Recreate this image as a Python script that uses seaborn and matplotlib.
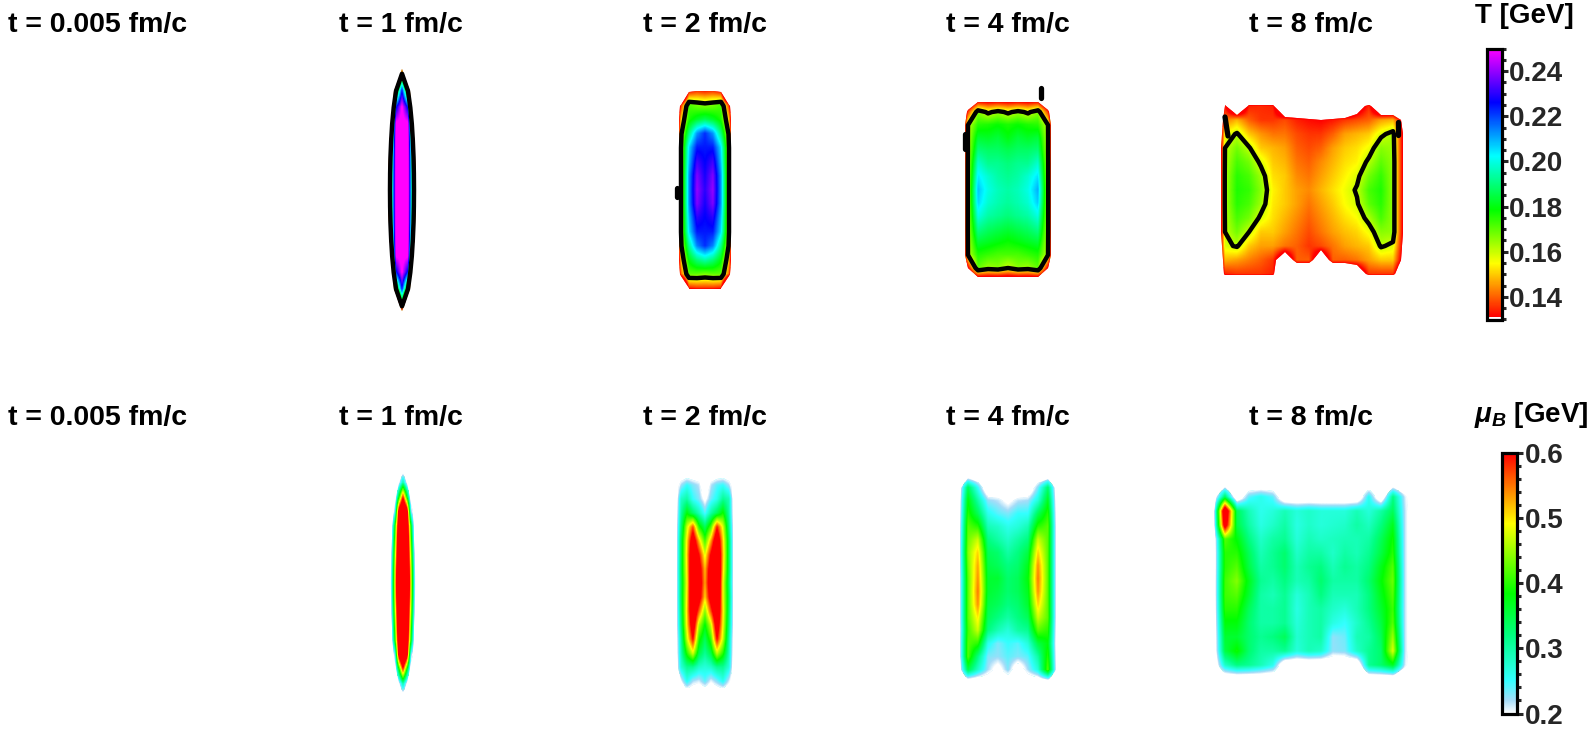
import matplotlib
matplotlib.use("Agg")
import matplotlib.pyplot as plt
import numpy as np
import pandas as pd
import seaborn as sns
from matplotlib.colors import LinearSegmentedColormap

W, H = 1590, 732

# values in MeV. rows go top to bottom
# 60 (T) and 150 (mu_B) mean nothing is drawn there
T_1 = [
    [60, 60, 60, 60, 60, 60, 60],
    [60, 60, 60, 165, 60, 60, 60],
    [60, 60, 160, 225, 160, 60, 60],
    [60, 60, 222, 252, 222, 60, 60],
    [60, 108, 252, 255, 252, 108, 60],
    [60, 137, 255, 255, 255, 137, 60],
    [60, 152, 255, 255, 255, 152, 60],
    [60, 158, 255, 255, 255, 158, 60],
    [60, 160, 255, 255, 255, 160, 60],
    [60, 158, 255, 255, 255, 158, 60],
    [60, 152, 255, 255, 255, 152, 60],
    [60, 137, 255, 255, 255, 137, 60],
    [60, 108, 252, 255, 252, 108, 60],
    [60, 60, 222, 252, 222, 60, 60],
    [60, 60, 160, 225, 160, 60, 60],
    [60, 60, 60, 165, 60, 60, 60],
    [60, 60, 60, 60, 60, 60, 60],
]
T_2 = [
    [60, 60, 60, 60, 60, 60, 60, 60, 60],
    [60, 60, 132, 136, 134, 136, 132, 60, 60],
    [60, 135, 172, 168, 166, 168, 172, 135, 60],
    [60, 150, 176, 182, 186, 182, 176, 150, 60],
    [60, 158, 190, 212, 222, 212, 190, 158, 60],
    [60, 160, 205, 224, 224, 224, 205, 160, 60],
    [60, 160, 208, 232, 226, 232, 208, 160, 60],
    [60, 160, 212, 238, 228, 238, 212, 160, 60],
    [60, 160, 212, 240, 230, 240, 212, 160, 60],
    [60, 160, 212, 238, 228, 238, 212, 160, 60],
    [60, 160, 208, 230, 226, 230, 208, 160, 60],
    [60, 160, 205, 224, 224, 224, 205, 160, 60],
    [60, 158, 192, 214, 222, 214, 192, 158, 60],
    [60, 150, 180, 190, 195, 190, 180, 150, 60],
    [60, 140, 170, 170, 168, 170, 170, 140, 60],
    [60, 60, 134, 136, 136, 136, 134, 60, 60],
    [60, 60, 60, 60, 60, 60, 60, 60, 60],
]
T_4 = [
    [60, 60, 60, 60, 60, 60, 60, 60, 60, 60, 60],
    [60, 100, 120, 120, 120, 120, 120, 120, 120, 100, 60],
    [60, 135, 166, 158, 163, 158, 163, 158, 166, 135, 60],
    [60, 160, 175, 176, 178, 176, 178, 176, 175, 160, 60],
    [60, 161, 183, 182, 184, 180, 184, 182, 184, 161, 60],
    [60, 161, 190, 188, 188, 186, 188, 188, 190, 161, 60],
    [60, 162, 198, 192, 192, 190, 192, 192, 198, 162, 60],
    [60, 162, 204, 198, 194, 192, 194, 198, 205, 162, 60],
    [60, 162, 208, 200, 196, 194, 196, 200, 210, 162, 60],
    [60, 162, 206, 198, 195, 193, 195, 198, 207, 162, 60],
    [60, 162, 200, 194, 192, 190, 192, 194, 200, 162, 60],
    [60, 162, 192, 188, 186, 184, 186, 188, 192, 162, 60],
    [60, 161, 184, 182, 180, 178, 180, 182, 184, 161, 60],
    [60, 160, 176, 174, 172, 172, 172, 174, 176, 160, 60],
    [60, 130, 170, 164, 166, 160, 166, 164, 170, 130, 60],
    [60, 100, 115, 115, 115, 115, 115, 115, 115, 100, 60],
    [60, 60, 60, 60, 60, 60, 60, 60, 60, 60, 60],
]
T_8 = [
    [60, 60, 60, 60, 60, 60, 60, 60, 60, 60, 60, 60, 60, 60, 60, 60, 60, 60],
    [60, 133, 100, 134, 135, 134, 100, 100, 100, 100, 100, 100, 120, 135, 100, 100, 60, 60],
    [60, 142, 148, 140, 136, 136, 138, 134, 132, 131, 133, 136, 138, 140, 146, 148, 122, 60],
    [60, 155, 161, 150, 145, 142, 142, 138, 136, 136, 140, 146, 148, 150, 158, 163, 122, 60],
    [60, 160, 168, 161, 150, 148, 146, 140, 138, 140, 146, 150, 152, 156, 166, 164, 122, 60],
    [60, 161, 172, 168, 158, 150, 148, 142, 140, 144, 148, 152, 154, 162, 170, 165, 122, 60],
    [60, 162, 175, 172, 164, 152, 150, 144, 142, 146, 150, 154, 158, 168, 174, 165, 122, 60],
    [60, 162, 176, 174, 166, 154, 150, 146, 144, 148, 152, 156, 161, 172, 176, 165, 122, 60],
    [60, 162, 175, 172, 164, 153, 150, 146, 142, 146, 150, 155, 159, 170, 175, 165, 122, 60],
    [60, 161, 172, 168, 158, 152, 148, 144, 140, 144, 148, 152, 155, 163, 172, 165, 122, 60],
    [60, 160, 168, 160, 150, 150, 146, 142, 138, 142, 146, 149, 151, 156, 166, 165, 122, 60],
    [60, 158, 161, 150, 146, 146, 142, 140, 136, 138, 142, 146, 148, 150, 161, 158, 122, 60],
    [60, 148, 146, 143, 140, 136, 112, 140, 140, 112, 140, 140, 142, 146, 150, 150, 120, 60],
    [60, 134, 136, 136, 136, 134, 100, 100, 100, 100, 100, 100, 110, 136, 136, 136, 100, 60],
    [60, 60, 60, 60, 60, 60, 60, 60, 60, 60, 60, 60, 60, 60, 60, 60, 60, 60],
]

MU_1 = [
    [150, 150, 150, 150, 150, 150, 150, 150, 150],
    [150, 150, 150, 200, 300, 200, 150, 150, 150],
    [150, 150, 170, 380, 590, 380, 170, 150, 150],
    [150, 150, 230, 650, 800, 650, 230, 150, 150],
    [150, 150, 380, 700, 800, 700, 380, 150, 150],
    [150, 170, 420, 720, 800, 720, 420, 170, 150],
    [150, 190, 450, 760, 800, 760, 450, 190, 150],
    [150, 205, 480, 780, 800, 780, 480, 205, 150],
    [150, 210, 490, 800, 800, 800, 490, 210, 150],
    [150, 205, 480, 780, 800, 780, 480, 205, 150],
    [150, 190, 450, 760, 800, 760, 450, 190, 150],
    [150, 170, 420, 720, 800, 720, 420, 170, 150],
    [150, 150, 380, 700, 800, 700, 380, 150, 150],
    [150, 150, 230, 650, 800, 650, 230, 150, 150],
    [150, 150, 170, 380, 590, 380, 170, 150, 150],
    [150, 150, 150, 200, 300, 200, 150, 150, 150],
    [150, 150, 150, 150, 150, 150, 150, 150, 150],
]
MU_2 = [
    [150, 150, 150, 150, 150, 150, 150, 150, 150, 150, 150],
    [150, 220, 250, 230, 215, 150, 215, 240, 250, 220, 150],
    [150, 280, 300, 250, 230, 190, 235, 260, 310, 290, 150],
    [150, 300, 380, 330, 290, 240, 300, 340, 390, 300, 150],
    [150, 320, 470, 570, 400, 340, 420, 590, 480, 320, 150],
    [150, 340, 500, 660, 520, 410, 530, 680, 510, 340, 150],
    [150, 340, 510, 700, 600, 480, 610, 720, 520, 340, 150],
    [150, 345, 500, 720, 640, 520, 650, 740, 510, 340, 150],
    [150, 340, 490, 730, 650, 530, 660, 740, 490, 330, 150],
    [150, 340, 500, 720, 640, 510, 640, 730, 490, 340, 150],
    [150, 330, 510, 700, 560, 440, 570, 700, 500, 330, 150],
    [150, 320, 500, 660, 460, 380, 470, 660, 490, 320, 150],
    [150, 300, 470, 600, 400, 340, 410, 600, 470, 300, 150],
    [150, 290, 400, 480, 350, 310, 350, 470, 400, 290, 150],
    [150, 270, 310, 310, 280, 270, 280, 310, 310, 270, 150],
    [150, 200, 260, 220, 210, 240, 205, 230, 260, 210, 150],
    [150, 150, 150, 150, 150, 150, 150, 150, 150, 150, 150],
]
MU_4 = [
    [150, 150, 150, 150, 150, 150, 150, 150, 150, 150, 150],
    [150, 340, 250, 150, 150, 150, 150, 150, 230, 330, 150],
    [150, 380, 300, 225, 215, 190, 215, 220, 270, 370, 150],
    [150, 400, 340, 260, 240, 230, 250, 250, 340, 400, 150],
    [150, 420, 400, 290, 280, 260, 270, 290, 400, 420, 150],
    [150, 430, 470, 320, 300, 280, 300, 320, 470, 420, 150],
    [150, 440, 510, 340, 330, 300, 320, 350, 510, 420, 150],
    [150, 430, 530, 350, 340, 320, 330, 370, 540, 420, 150],
    [150, 420, 540, 360, 360, 330, 340, 380, 550, 420, 150],
    [150, 420, 550, 360, 350, 330, 340, 370, 540, 420, 150],
    [150, 420, 540, 350, 340, 320, 330, 360, 510, 420, 150],
    [150, 420, 500, 340, 320, 300, 320, 340, 470, 420, 150],
    [150, 410, 470, 320, 290, 270, 300, 310, 420, 400, 150],
    [150, 420, 400, 260, 230, 250, 240, 270, 350, 380, 150],
    [150, 420, 320, 230, 225, 240, 230, 240, 300, 400, 150],
    [150, 350, 280, 220, 180, 230, 160, 220, 270, 420, 150],
    [150, 150, 150, 150, 150, 150, 150, 150, 150, 150, 150],
]
MU_8 = [
    [150, 150, 150, 150, 150, 150, 150, 150, 150, 150, 150, 150, 150, 150, 150, 150, 150, 150],
    [150, 340, 150, 240, 260, 240, 150, 150, 150, 150, 150, 150, 150, 260, 150, 320, 210, 150],
    [150, 700, 340, 290, 260, 270, 290, 270, 280, 270, 270, 270, 290, 270, 300, 340, 215, 150],
    [150, 650, 350, 300, 265, 280, 300, 265, 280, 270, 275, 280, 300, 285, 320, 370, 215, 150],
    [150, 420, 380, 320, 280, 300, 310, 270, 290, 280, 285, 290, 290, 300, 340, 390, 215, 150],
    [150, 400, 400, 340, 290, 310, 330, 280, 300, 300, 280, 300, 290, 310, 350, 400, 215, 150],
    [150, 400, 420, 350, 300, 310, 330, 290, 310, 320, 290, 310, 300, 320, 370, 420, 215, 150],
    [150, 410, 440, 370, 310, 300, 320, 290, 300, 330, 300, 300, 300, 330, 380, 430, 215, 150],
    [150, 410, 420, 360, 300, 290, 310, 270, 290, 320, 290, 290, 290, 320, 370, 420, 215, 150],
    [150, 400, 400, 340, 300, 300, 310, 265, 290, 300, 280, 270, 290, 320, 360, 410, 215, 150],
    [150, 380, 380, 330, 300, 300, 310, 270, 290, 300, 265, 250, 280, 310, 350, 420, 215, 150],
    [150, 360, 360, 330, 310, 320, 340, 275, 290, 300, 225, 235, 290, 300, 340, 450, 215, 150],
    [150, 350, 390, 330, 300, 300, 310, 270, 290, 280, 225, 230, 280, 310, 330, 480, 215, 150],
    [150, 280, 320, 310, 290, 260, 150, 150, 150, 150, 150, 150, 150, 310, 330, 370, 210, 150],
    [150, 150, 150, 150, 150, 150, 150, 150, 150, 150, 150, 150, 150, 150, 150, 150, 150, 150],
]

TIMES = ["t = 0.005 fm/c", "t = 1 fm/c", "t = 2 fm/c", "t = 4 fm/c", "t = 8 fm/c"]
TITLE_X = [98, 401, 705, 1008, 1311]
T_TICKS = [0.14, 0.16, 0.18, 0.20, 0.22, 0.24]
MU_TICKS = [0.2, 0.3, 0.4, 0.5, 0.6]

# the stray black bits of the 0.16 contour
STRAY_X = [[677, 677], [965, 965], [1041, 1041], [1225, 1228], [1398, 1398]]
STRAY_Y = [[188, 197], [134, 149], [88, 98], [117, 136], [122, 135]]

# first cell centre x, step x, first cell centre y, step y (pixels)
T_LAYOUT = [(384, 6, 58, 16.5), (673, 8, 78, 14), (958, 10, 86, 13), (1213, 12, 92, 14)]
MU_LAYOUT = [(387, 4, 468.6, 14.3), (675, 6, 471, 14), (958, 10, 475, 13), (1213, 12, 483, 14)]

T_CMAP = LinearSegmentedColormap.from_list(
    "temp", ["#ff0000", "#ffff00", "#00ff00", "#00ffff", "#0000ff", "#ff00ff"], N=512)
MU_CMAP = LinearSegmentedColormap.from_list(
    "mub",
    [(0.0, "#ffffff"), (0.05, "#a5dcf8"), (0.125, "#33ffff"), (0.3, "#00ff80"),
     (0.46, "#00ff00"), (0.73, "#ffff00"), (1.0, "#ff0000")], N=512)


def add_px_axes(x0, y0, x1, y1):
    return fig.add_axes([x0 / W, 1 - y1 / H, (x1 - x0) / W, (y1 - y0) / H])


def draw_panel(values, layout, cmap, vmin, vmax, edge, line=None):
    x0, dx, y0, dy = layout
    grid = np.array(values) / 1000
    nrow, ncol = grid.shape
    ax = add_px_axes(x0 - dx / 2, y0 - dy / 2, x0 + dx * (ncol - 0.5), y0 + dy * (nrow - 0.5))
    sns.heatmap(pd.DataFrame(grid), ax=ax, cmap=cmap, vmin=vmin, vmax=vmax,
                cbar=False, xticklabels=False, yticklabels=False)
    mesh = ax.collections[0]
    # heatmap cells are blocky, same numbers smoothed on top of them
    img = ax.imshow(grid, cmap=cmap, vmin=vmin, vmax=vmax, aspect="auto", zorder=2,
                    extent=(0, ncol, nrow, 0), interpolation="bilinear", interpolation_stage="data")
    xs = np.arange(ncol) + 0.5
    ys = np.arange(nrow) + 0.5
    outline = ax.contour(xs, ys, grid, levels=[edge], linewidths=0)
    path = outline.get_paths()[0]
    outline.remove()
    mesh.set_clip_path(path, transform=ax.transData)
    img.set_clip_path(path, transform=ax.transData)
    if line is not None:
        ax.contour(xs, ys, grid, levels=[line], colors="black", linewidths=3.2, zorder=3)
    ax.set_xlim(0, ncol)
    ax.set_ylim(nrow, 0)
    ax.set_xlabel("")
    ax.set_ylabel("")
    ax.axis("off")


def draw_colorbar(cax, cmap, vmin, vmax, ticks, minor, fmt, ylim, pad):
    dummy = add_px_axes(0, 0, 1, 1)
    sns.heatmap(pd.DataFrame([[vmin, vmax]]), ax=dummy, cmap=cmap, vmin=vmin, vmax=vmax,
                cbar=True, cbar_ax=cax, xticklabels=False, yticklabels=False,
                cbar_kws={"ticks": ticks, "format": fmt})
    cbar = dummy.collections[0].colorbar
    dummy.set_visible(False)
    cax.set_ylim(*ylim)
    cax.yaxis.set_ticks(minor, minor=True)
    cax.tick_params(axis="y", which="major", direction="out", length=4, width=2.2,
                    labelsize=20, pad=pad, right=True)
    cax.tick_params(axis="y", which="minor", direction="out", length=3, width=2.2, right=True)
    cbar.outline.set_linewidth(2.3)
    cbar.outline.set_edgecolor("black")


sns.set_theme(style="white")
plt.rcParams["font.family"] = ["Liberation Sans", "DejaVu Sans"]
plt.rcParams["font.weight"] = "bold"
plt.rcParams["mathtext.fontset"] = "custom"
plt.rcParams["mathtext.rm"] = "Liberation Sans:bold"
plt.rcParams["mathtext.it"] = "Liberation Sans:italic:bold"
plt.rcParams["mathtext.bf"] = "Liberation Sans:bold"

fig = plt.figure(figsize=(W / 100, H / 100), dpi=100, facecolor="white")

for grid, layout in zip([T_1, T_2, T_4, T_8], T_LAYOUT):
    draw_panel(grid, layout, T_CMAP, 0.131, 0.25, 0.130, line=0.160)
for grid, layout in zip([MU_1, MU_2, MU_4, MU_8], MU_LAYOUT):
    draw_panel(grid, layout, MU_CMAP, 0.2, 0.6, 0.200)

for x, label in zip(TITLE_X, TIMES):
    fig.text(x / W, 1 - 32 / H, label, ha="center", va="baseline", fontsize=20.5, color="black")
    fig.text(x / W, 1 - 425 / H, label, ha="center", va="baseline", fontsize=20.5, color="black")

fig.text(1475 / W, 1 - 23 / H, "T [GeV]", ha="left", va="baseline", fontsize=20, color="black")
fig.text(1474 / W, 1 - 422 / H, r"$\mathit{\mu_B}$ [GeV]", ha="left", va="baseline",
         fontsize=20, color="black")

draw_colorbar(add_px_axes(1486.5, 48.5, 1501.5, 320.5), T_CMAP, 0.131, 0.25, T_TICKS,
              np.arange(0.13, 0.2501, 0.005), "%.2f", (0.1295, 0.2498), 1)
draw_colorbar(add_px_axes(1501.5, 453, 1516.5, 713.5), MU_CMAP, 0.2, 0.6, MU_TICKS,
              np.arange(0.2, 0.601, 0.02), "%.1f", (0.2, 0.6), 2)

overlay = fig.add_axes([0, 0, 1, 1], facecolor="none")
overlay.set_xlim(0, W)
overlay.set_ylim(H, 0)
overlay.axis("off")
for xs, ys in zip(STRAY_X, STRAY_Y):
    overlay.plot(xs, ys, color="black", lw=3.8, solid_capstyle="round")

fig.savefig("out.png", dpi=100)
